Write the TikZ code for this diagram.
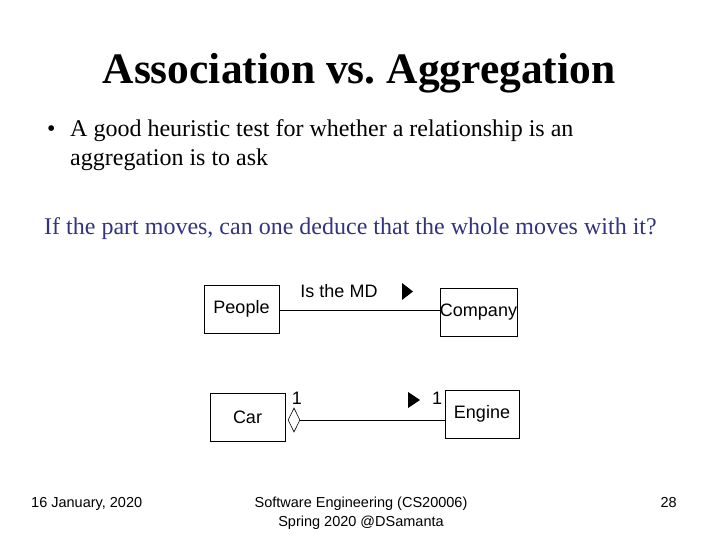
\documentclass[tikz,border=0pt]{standalone}
\usepackage{fontspec}
\setmainfont{Liberation Serif}
\setsansfont{Liberation Sans}
\usetikzlibrary{shapes.geometric}
\definecolor{slideblue}{RGB}{51,51,128}
\tikzset{
  classbox/.style={draw, line width=0.75pt, inner sep=0pt, font=\sffamily\fontsize{18}{21}\selectfont},
  aggdiamond/.style={draw, diamond, line width=0.6pt, inner sep=0pt, minimum width=12pt, minimum height=24pt, aspect=0.5},
  umllabel/.style={inner sep=0.75pt, font=\sffamily\fontsize{18}{21}\selectfont},
  footer/.style={inner sep=0pt, font=\sffamily\fontsize{14.5}{18}\selectfont}
}
\frenchspacing
\begin{document}
\begin{tikzpicture}[x=1pt,y=1pt,yscale=-1,xscale=1]
\useasboundingbox (0,0) rectangle (720,540);

% Title
\draw (359,84) node [anchor=base][inner sep=0pt] (title) {\fontsize{43.5}{50}\selectfont\bfseries Association vs. Aggregation};
% Bullet
\draw (47,137) node [anchor=base west][inner sep=0pt] (dot) {\fontsize{24}{28}\selectfont\textbullet};
\draw (70,137) node [anchor=base west][inner sep=0pt] (lineA) {\fontsize{24}{28}\selectfont A good heuristic test for whether a relationship is an};
\draw (70,166) node [anchor=base west][inner sep=0pt] (lineB) {\fontsize{24}{28}\selectfont aggregation is to ask};
% Question
\draw (44,234) node [anchor=base west][inner sep=0pt, text=slideblue] (question) {\fontsize{24}{28}\selectfont If the part moves, can one deduce that the whole moves with it?};

% Boxes
\draw (241.5,309) node [classbox, minimum width=75pt, minimum height=48pt] (people) {People};
\draw (478.5,312) node [classbox, minimum width=75pt, minimum height=48pt] (company) {Company};
\draw (247.5,417) node [classbox, minimum width=75pt, minimum height=48pt] (car) {Car};
\draw (482,414) node [classbox, minimum width=74pt, minimum height=48pt] (engine) {Engine};
\draw (294,420) node [aggdiamond] (agg) {};

% Association
\draw [line width=0.75pt] (people.east |- 0,310) -- (company.west |- 0,310);
% Aggregation
\draw [line width=0.75pt] (agg.east) -- (engine.west |- agg.east);

% Labels
\draw (339,291) node [umllabel] (md) {Is the MD};
\fill (402,283) -- (413,291.5) -- (402,300) -- cycle;
\draw (297,398) node [umllabel] (oneA) {1};
\draw (437,398) node [umllabel] (oneB) {1};
\fill (408,392) -- (420,400) -- (408,408) -- cycle;

% Footer
\draw (31,507) node [anchor=base west][footer] (date) {16 January, 2020};
\draw (361,507) node [anchor=base][footer] (course) {Software Engineering (CS20006)};
\draw (361,526) node [anchor=base][footer] (term) {Spring 2020 @DSamanta};
\draw (677,507) node [anchor=base east][footer] (page) {28};

\end{tikzpicture}
\end{document}
